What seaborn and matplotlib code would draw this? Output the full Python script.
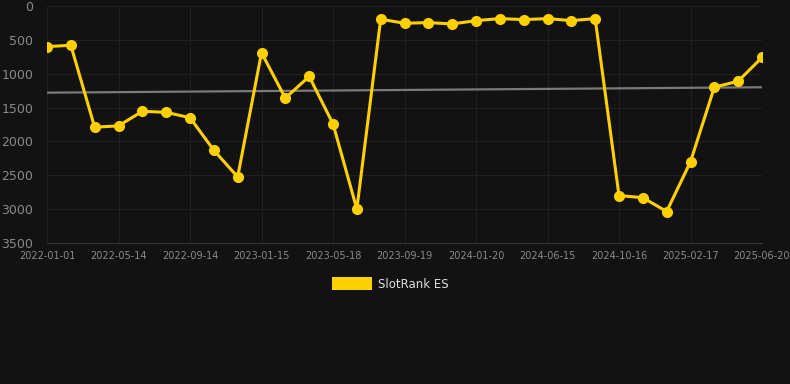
import matplotlib
matplotlib.use("Agg")
import matplotlib.pyplot as plt
import seaborn as sns
import numpy as np
import pandas as pd
from matplotlib.patches import Patch

dates = ["2022-01-01", "2022-02-14", "2022-03-30", "2022-05-14", "2022-06-24", "2022-08-04",
         "2022-09-14", "2022-10-25", "2022-12-05", "2023-01-15", "2023-02-25", "2023-04-07",
         "2023-05-18", "2023-06-28", "2023-08-08", "2023-09-19", "2023-10-30", "2023-12-10",
         "2024-01-20", "2024-03-10", "2024-04-28", "2024-06-15", "2024-07-26", "2024-09-05",
         "2024-10-16", "2024-11-26", "2025-01-06", "2025-02-17", "2025-03-30", "2025-05-10",
         "2025-06-20"]
ranks = [600, 580, 1790, 1770, 1555, 1570, 1650, 2130, 2525, 690, 1360, 1040, 1740, 3000,
         195, 255, 245, 265, 216, 186, 201, 186, 216, 186, 2800, 2830, 3035, 2300, 1200,
         1110, 760]
trend_values = [1280, 1200]  # trend line at first and last date
tick_labels = ["2022-01-01", "2022-05-14", "2022-09-14", "2023-01-15", "2023-05-18",
               "2023-09-19", "2024-01-20", "2024-06-15", "2024-10-16", "2025-02-17",
               "2025-06-20"]
series_name = "SlotRank ES"

df = pd.DataFrame({"pos": np.arange(len(ranks)), "rank": ranks, "date": dates})
trend_df = pd.DataFrame({"pos": [0, len(ranks) - 1], "rank": trend_values})

sns.set_theme(style="dark")
bg = "#121212"
fig = plt.figure(figsize=(7.9, 3.84), dpi=100, facecolor=bg)
ax = fig.add_axes([47 / 790, 1 - 243 / 384, (762 - 47) / 790, (243 - 6) / 384])
ax.set_facecolor(bg)

sns.lineplot(data=trend_df, x="pos", y="rank", ax=ax, color="#7a7a7a", lw=1.6,
             zorder=2, legend=False)
sns.lineplot(data=df, x="pos", y="rank", ax=ax, color="#FFD000", lw=2.2,
             marker="o", markersize=8, markeredgewidth=0, zorder=3, legend=False)

ax.set_xlim(0, len(ranks) - 1)
ax.set_ylim(3500, 0)
ax.set_yticks(np.arange(0, 3501, 500))
ax.set_xticks(np.arange(0, len(ranks), 3))
ax.set_xticklabels(tick_labels)
ax.tick_params(axis="y", colors="#8a8a8a", labelsize=9, length=0, pad=10)
ax.tick_params(axis="x", colors="#8a8a8a", labelsize=7, length=0, pad=6)
ax.set_xlabel("")
ax.set_ylabel("")
ax.grid(True, color="#202020", lw=0.8)
for s in ["top", "right", "left"]:
    ax.spines[s].set_visible(False)
ax.spines["bottom"].set_color("#363636")
ax.spines["bottom"].set_linewidth(0.8)

handles = [Patch(facecolor="#FFD000", edgecolor="none", label=series_name)]
leg = fig.legend(handles=handles, loc="center", bbox_to_anchor=(390 / 790, 1 - 284 / 384),
                 frameon=False, fontsize=8.5, handlelength=3.4, handleheight=1.2,
                 handletextpad=0.5)
for t in leg.get_texts():
    t.set_color("#dddddd")

fig.savefig("out.png", dpi=100, facecolor=bg)
